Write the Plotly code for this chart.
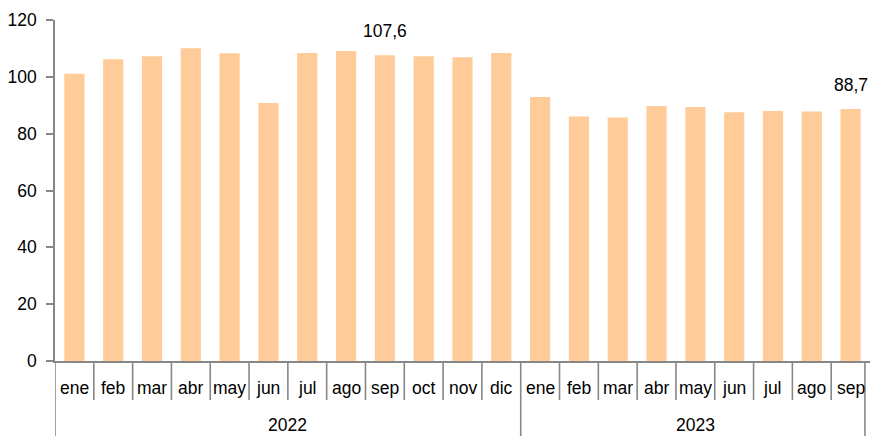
import plotly.graph_objects as go

years = ["2022"] * 12 + ["2023"] * 9
months = ["ene", "feb", "mar", "abr", "may", "jun", "jul", "ago", "sep", "oct", "nov", "dic",
          "ene", "feb", "mar", "abr", "may", "jun", "jul", "ago", "sep"]
values = [101.1, 106.2, 107.2, 110.1, 108.3, 90.8, 108.4, 109.1, 107.6, 107.2, 106.9, 108.4,
          92.9, 86.0, 85.7, 89.7, 89.4, 87.5, 88.0, 87.8, 88.7]
labelled = [8, 20]  # bars carrying a value label
y_ticks = [0, 20, 40, 60, 80, 100, 120]

BAR = "#FFCC99"
GRAY = "#878787"
FONT = "Liberation Sans, Arial, sans-serif"
FS = 17.5

cats = [f"{m} {y}" for m, y in zip(months, years)]
n = len(cats)

fig = go.Figure()
fig.add_trace(go.Bar(x=cats, y=values, marker=dict(color=BAR, line=dict(width=0)),
                     hoverinfo="x+y"))

annotations = []
shapes = []

# value labels
for i in labelled:
    annotations.append(dict(x=cats[i], y=values[i], xref="x", yref="y",
                            text=f"{values[i]:.1f}".replace(".", ","),
                            showarrow=False, yanchor="bottom", yshift=12,
                            font=dict(family=FONT, size=FS, color="#000")))

# month labels
for i, m in enumerate(months):
    annotations.append(dict(x=i, y=0, xref="x", yref="paper", text=m, showarrow=False,
                            yanchor="middle", yshift=-27,
                            font=dict(family=FONT, size=FS, color="#000")))

# year groups
groups = []
for i, y in enumerate(years):
    if not groups or groups[-1][0] != y:
        groups.append([y, i, i])
    else:
        groups[-1][2] = i
for y, a, b in groups:
    annotations.append(dict(x=(a + b) / 2, y=0, xref="x", yref="paper", text=y,
                            showarrow=False, yanchor="middle", yshift=-64,
                            font=dict(family=FONT, size=FS, color="#000")))

# separators
boundaries_group = {-0.5} | {b + 0.5 for _, _, b in groups}
for i in range(n + 1):
    xb = i - 0.5
    if xb in boundaries_group:
        xpos = xb if xb < n - 0.5 else xb - 0.13
        y1 = -75
    else:
        xpos = xb
        y1 = -39
    shapes.append(dict(type="line", xref="x", yref="paper", ysizemode="pixel", yanchor=0,
                       x0=xpos, x1=xpos, y0=0, y1=y1,
                       line=dict(color=GRAY, width=1.6)))

fig.update_layout(
    width=870, height=436,
    margin=dict(l=55, r=0, t=20, b=75, autoexpand=False),
    paper_bgcolor="white", plot_bgcolor="white",
    bargap=0.48, showlegend=False,
    font=dict(family=FONT, size=FS, color="#000"),
    annotations=annotations, shapes=shapes,
    xaxis=dict(type="category", categoryorder="array", categoryarray=cats,
               range=[-0.5, n - 0.5], showticklabels=False, ticks="",
               showline=True, linecolor=GRAY, linewidth=1.6, showgrid=False,
               zeroline=False, fixedrange=True, automargin=False),
    yaxis=dict(range=[0, 120], tickvals=y_ticks, ticktext=[str(v) for v in y_ticks],
               showline=True, linecolor=GRAY, linewidth=1.6, ticks="outside",
               ticklen=7, tickwidth=1.6, tickcolor=GRAY, showgrid=False,
               zeroline=False, tickfont=dict(family=FONT, size=FS, color="#000"),
               ticklabelstandoff=6, automargin=False),
)

fig.write_html("out.html", config={"displayModeBar": False},
               post_script="document.body.style.margin='0';document.body.style.overflow='hidden';")
